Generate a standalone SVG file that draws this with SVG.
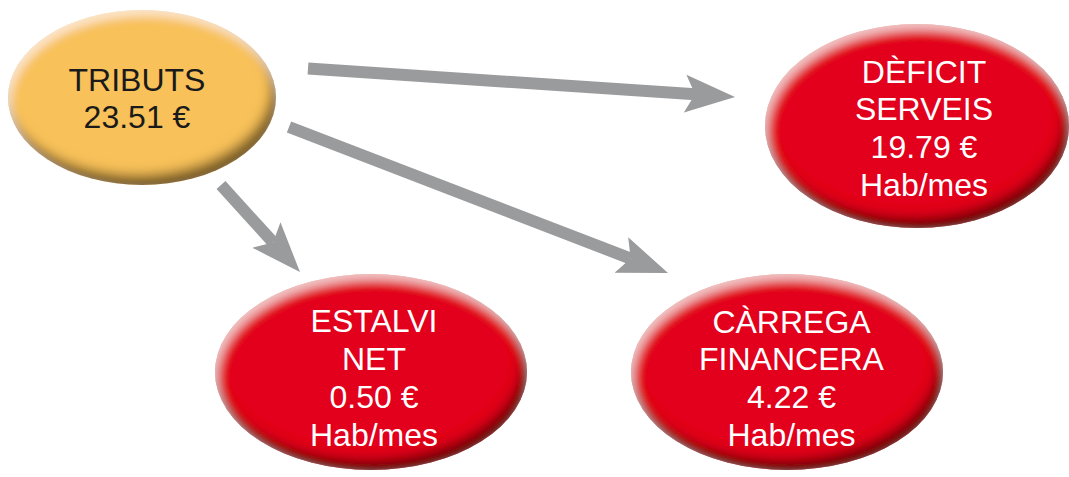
<svg xmlns="http://www.w3.org/2000/svg" width="1069" height="477" viewBox="0 0 1069 477">
  <style>
    .lbl { font-family: "Liberation Sans", Arial, sans-serif; font-size: 32px; text-anchor: middle; }
    .dark { fill: #1a1a1a; }
    .light { fill: #ffffff; }
    .red { fill: #e2001a; }
    .gold { fill: #f8c15a; }
    .conn { stroke: #9a9b9d; stroke-width: 12; fill: none; stroke-linecap: butt; marker-end: url(#head); }
  </style>
  <defs>
    <marker id="head" viewBox="0 0 50 40" refX="10" refY="20" markerWidth="50" markerHeight="40" markerUnits="userSpaceOnUse" orient="auto">
      <path d="M0,1 L50,20 L0,39 L10,20 Z" fill="#9a9b9d"/>
    </marker>
    <filter id="bevel" x="-20%" y="-25%" width="140%" height="150%">
      <feComponentTransfer in="SourceAlpha" result="inv">
        <feFuncA type="table" tableValues="1 0"/>
      </feComponentTransfer>
      <feOffset in="inv" dx="-5" dy="-10" result="offS"/>
      <feGaussianBlur in="offS" stdDeviation="6" result="blurS"/>
      <feComposite in="blurS" in2="SourceAlpha" operator="in" result="maskS"/>
      <feFlood flood-color="#000000" flood-opacity="0.8" result="black"/>
      <feComposite in="black" in2="maskS" operator="in" result="shadow"/>
      <feOffset in="inv" dx="3" dy="6" result="offH"/>
      <feGaussianBlur in="offH" stdDeviation="5" result="blurH"/>
      <feComposite in="blurH" in2="SourceAlpha" operator="in" result="maskH"/>
      <feFlood flood-color="#ffffff" flood-opacity="0.55" result="white"/>
      <feComposite in="white" in2="maskH" operator="in" result="hl"/>
      <feMerge>
        <feMergeNode in="SourceGraphic"/>
        <feMergeNode in="shadow"/>
        <feMergeNode in="hl"/>
      </feMerge>
    </filter>
  </defs>
  <rect width="1069" height="477" fill="#ffffff"/>

  <g id="connectors">
    <line class="conn" x1="308" y1="68.5" x2="695.1" y2="94.3"/>
    <line class="conn" x1="289" y1="127" x2="630.7" y2="258.6"/>
    <line class="conn" x1="221" y1="185" x2="273.1" y2="242.4"/>
  </g>

  <g id="tributs">
    <ellipse class="gold" cx="142" cy="97.5" rx="134" ry="87.5" filter="url(#bevel)"/>
    <text class="lbl dark" x="137" y="90.5">TRIBUTS</text>
    <text class="lbl dark" x="137" y="128">23.51 €</text>
  </g>

  <g id="deficit">
    <ellipse class="red" cx="917" cy="126" rx="152" ry="102" filter="url(#bevel)"/>
    <text class="lbl light" x="924" y="83">DÈFICIT</text>
    <text class="lbl light" x="924" y="120">SERVEIS</text>
    <text class="lbl light" x="924" y="158">19.79 €</text>
    <text class="lbl light" x="924" y="196">Hab/mes</text>
  </g>

  <g id="estalvi">
    <ellipse class="red" cx="371" cy="372" rx="156" ry="98" filter="url(#bevel)"/>
    <text class="lbl light" x="374" y="332">ESTALVI</text>
    <text class="lbl light" x="374" y="370">NET</text>
    <text class="lbl light" x="374" y="407.5">0.50 €</text>
    <text class="lbl light" x="374" y="445.5">Hab/mes</text>
  </g>

  <g id="carrega">
    <ellipse class="red" cx="787" cy="372" rx="156" ry="98" filter="url(#bevel)"/>
    <text class="lbl light" x="791.5" y="332.5">CÀRREGA</text>
    <text class="lbl light" x="791.5" y="370">FINANCERA</text>
    <text class="lbl light" x="791.5" y="408">4.22 €</text>
    <text class="lbl light" x="791.5" y="445.5">Hab/mes</text>
  </g>
</svg>
